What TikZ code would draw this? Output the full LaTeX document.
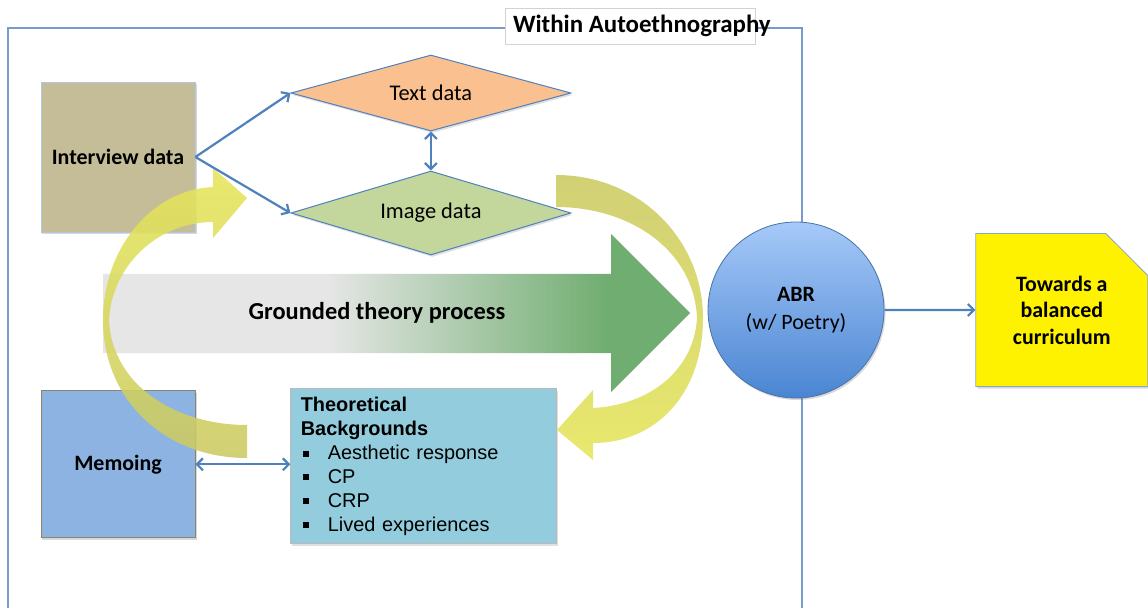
\documentclass[tikz,border=0pt]{standalone}
\usepackage{fontspec}
\setmainfont{Carlito}
\newfontfamily\arialfont{Liberation Sans}
\usepackage{xcolor}
\definecolor{frameBlue}{HTML}{7A9BC9}
\definecolor{lineBlue}{HTML}{4F81BD}
\definecolor{interviewFill}{HTML}{C4BD97}
\definecolor{memoFill}{HTML}{8DB3E2}
\definecolor{tbFill}{HTML}{93CDDD}
\definecolor{textFill}{HTML}{FAC090}
\definecolor{imageFill}{HTML}{C3D69B}
\definecolor{abrTop}{HTML}{A6C9F8}
\definecolor{abrBottom}{HTML}{4A85D2}
\definecolor{gtGray}{HTML}{E6E6E6}
\definecolor{gtGreen}{HTML}{70AD70}
\definecolor{yelBright}{HTML}{E6E65A}
\definecolor{yelOlive}{HTML}{CBCA62}
\usepackage{tikz}
\usetikzlibrary{shapes,arrows.meta,positioning,shadows}
\pgfdeclarehorizontalshading{gtShade}{100bp}{color(0bp)=(gtGray); color(25bp)=(gtGray); color(44bp)=(gtGray); color(68bp)=(gtGreen); color(100bp)=(gtGreen)}
\newcommand{\tbitem}{\makebox[27bp][l]{\hspace*{2bp}\rule[3bp]{6bp}{6bp}}}
\tikzset{
    frame/.style={
        draw=frameBlue,
        line width=1.5bp
    },
    titlebox/.style={
        draw=gray!35,
        fill=white,
        rectangle,
        minimum height=36bp,
        inner xsep=8bp,
        inner ysep=0pt,
        font=\fontsize{25}{28}\selectfont\bfseries
    },
    box/.style={
        rectangle,
        minimum width=154bp,
        minimum height=150bp,
        line width=0.8bp,
        align=center,
        drop shadow={opacity=0.3, shadow xshift=1.5bp, shadow yshift=-2bp},
        font=\fontsize{22}{26}\selectfont\bfseries
    },
    datadia/.style={
        diamond,
        aspect=3.7,
        draw=lineBlue,
        line width=1bp,
        minimum width=280bp,
        minimum height=76bp,
        inner sep=0pt,
        drop shadow={opacity=0.25, shadow xshift=1.5bp, shadow yshift=-2bp},
        font=\fontsize{22.5}{26}\selectfont
    },
    tbbox/.style={
        rectangle,
        fill=tbFill,
        draw=gray!55,
        line width=0.8bp,
        minimum width=266bp,
        minimum height=155bp,
        text width=246bp,
        inner xsep=10bp,
        align=left,
        drop shadow={opacity=0.25, shadow xshift=1.5bp, shadow yshift=-2bp},
        font=\arialfont\fontsize{20}{24}\selectfont
    },
    abrcircle/.style={
        circle,
        minimum size=176bp,
        top color=abrTop,
        bottom color=abrBottom,
        draw=lineBlue!90!black,
        line width=0.8bp,
        align=center,
        drop shadow={opacity=0.3, shadow xshift=1.5bp, shadow yshift=-2bp},
        font=\fontsize{22}{28}\selectfont
    },
    goalbox/.style={
        chamfered rectangle,
        chamfered rectangle corners=north east,
        chamfered rectangle sep=21bp,
        fill=yellow,
        draw=lineBlue!70,
        line width=0.8bp,
        minimum width=172bp,
        minimum height=153bp,
        align=center,
        drop shadow={opacity=0.3, shadow xshift=1.5bp, shadow yshift=-2bp},
        font=\fontsize{22}{26.5}\selectfont\bfseries
    },
    gtlabel/.style={
        font=\fontsize{24.5}{28}\selectfont\bfseries
    },
    curved/.style={
        fill opacity=0.88
    },
    arrow/.style={
        ->,
        >={Straight Barb[length=6bp,width=12bp]},
        line width=2.2bp,
        color=lineBlue
    },
    dblarrow/.style={
        <->,
        >={Straight Barb[length=6bp,width=12bp]},
        line width=2.2bp,
        color=lineBlue
    }
}

\begin{document}
\begin{tikzpicture}[x=1bp, y=-1bp]
    \fill[white] (0,0) rectangle (1148,608);
    \useasboundingbox (0,0) rectangle (1148,608);

    % Autoethnography frame
    \draw[frame] (8,28) rectangle (802,650);
    \node[titlebox] (title) at (630,26) {\makebox[234bp][l]{Within Autoethnography}};

    % Grounded theory arrow
    \shade[shading=gtShade] (103,274) -- (611,274) -- (611,234) -- (690,313)
        -- (611,392) -- (611,353) -- (103,353) -- cycle;
    \node[gtlabel] (gtp) at (377,313) {Grounded theory process};

    % Data sources
    \node[box, fill=interviewFill, draw=lineBlue!45] (interview) at (118,157) {Interview data};
    \node[datadia, fill=textFill, right=95bp of interview, yshift=64bp] (textd) {Text data};
    \node[datadia, fill=imageFill, minimum height=84bp, right=95bp of interview, yshift=-56bp] (imaged) {Image data};

    % Memoing and theory
    \node[box, fill=memoFill, draw=interviewFill!70!black, minimum height=147bp,
        below=158bp of interview] (memo) {Memoing};
    \node[tbbox, right=95bp of memo, yshift=-2bp] (tb) {\textbf{Theoretical}\\
        \textbf{Backgrounds}\\
        \tbitem Aesthetic response\\
        \tbitem CP\\
        \tbitem CRP\\
        \tbitem Lived experiences};

    % ABR and outcome
    \node[abrcircle] (abr) at (796,310) {\textbf{ABR}\\(w/ Poetry)};
    \node[goalbox, right=91bp of abr] (goal) {Towards a\\balanced\\curriculum};

    % Yellow cycle arrows
    \shade[curved, top color=yelBright, bottom color=yelOlive]
        (213,187) .. controls (150,190) and (103,250) .. (103,320)
        .. controls (103,400) and (165,458) .. (247,458) -- (247,425)
        .. controls (175,425) and (112,385) .. (109,320)
        .. controls (112,265) and (158,222) .. (213,222)
        -- (213,238) -- (247,198) -- (213,168) -- cycle;
    \shade[curved, top color=yelOlive, bottom color=yelBright]
        (556,175) .. controls (640,175) and (703,240) .. (703,318)
        .. controls (703,395) and (655,443) .. (593,443)
        -- (593,460) -- (557,430) -- (593,390) -- (593,408)
        .. controls (650,405) and (694,370) .. (697,318)
        .. controls (694,250) and (630,207) .. (556,207) -- cycle;

    % Arrows
    \draw[arrow] (interview.east) -- (textd.west);
    \draw[arrow] (interview.east) -- (imaged.west);
    \draw[dblarrow] (textd) -- (imaged);
    \draw[dblarrow] (memo) -- (tb.west |- memo.east);
    \draw[arrow] (abr) -- (goal);
\end{tikzpicture}
\end{document}
